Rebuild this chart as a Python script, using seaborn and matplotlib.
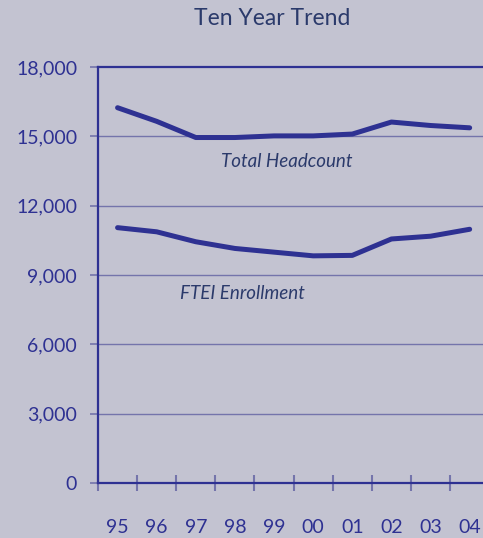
import numpy as np
import pandas as pd
import matplotlib
matplotlib.use("Agg")
import matplotlib.pyplot as plt
import seaborn as sns

# Data
years = ['95', '96', '97', '98', '99', '00', '01', '02', '03', '04']
total_headcount = [16240, 15650, 14950, 14950, 15020, 15020, 15100, 15620, 15470, 15370]
ftei_enrollment = [11050, 10870, 10440, 10150, 9990, 9830, 9850, 10560, 10680, 10980]
y_ticks = [0, 3000, 6000, 9000, 12000, 15000, 18000]

bg = '#c3c3d1'
navy = '#2e3192'
grid_col = '#7474ab'
text_col = '#2b3a6b'

sns.set_style("white")
plt.rcParams['font.family'] = ['Lato', 'DejaVu Sans']

df = pd.DataFrame({
    'idx': np.arange(len(years)),
    'Total Headcount': total_headcount,
    'FTEI Enrollment': ftei_enrollment,
})

fig = plt.figure(figsize=(4.83, 5.38), dpi=100)
fig.patch.set_facecolor(bg)
ax = fig.add_axes([0.2029, 0.1022, 0.81, 0.7732])
ax.set_facecolor(bg)

for col in ['Total Headcount', 'FTEI Enrollment']:
    sns.lineplot(data=df, x='idx', y=col, ax=ax, color=navy, linewidth=3.6,
                 solid_capstyle='round', solid_joinstyle='round')

ax.set_xlim(-0.5, 9.5)
ax.set_ylim(0, 18000)
ax.set_yticks(y_ticks)
ax.set_yticklabels([f'{v:,}' for v in y_ticks], fontsize=14, color=navy)
ax.set_xticks(np.arange(len(years)))
ax.set_xticklabels(years, fontsize=14, color=navy)
ax.set_xticks(np.arange(len(years)) - 0.5, minor=True)
ax.tick_params(bottom=True, left=True, which='both')
ax.tick_params(axis='x', which='major', length=0, pad=26)
ax.tick_params(axis='x', which='minor', direction='inout', length=12, width=1.5, color=grid_col)
ax.tick_params(axis='y', which='major', direction='out', length=6, width=1.2, color=grid_col, pad=9)
ax.set_xlabel('')
ax.set_ylabel('')

for v in y_ticks[1:-1]:
    ax.axhline(v, color=grid_col, linewidth=1.0, zorder=0)

for side in ['left', 'top', 'bottom']:
    ax.spines[side].set_color(navy)
    ax.spines[side].set_linewidth(1.6)
ax.spines['right'].set_visible(False)

ax.text(4.33, 13900, 'Total Headcount', style='italic', fontsize=13.5,
        color=text_col, ha='center', va='center')
ax.text(3.18, 8180, 'FTEI Enrollment', style='italic', fontsize=13.5,
        color=text_col, ha='center', va='center')

fig.text(0.563, 0.966, 'Ten Year Trend', fontsize=16.5, color=text_col,
         ha='center', va='center')

plt.savefig('out.png', dpi=100, facecolor=bg)
